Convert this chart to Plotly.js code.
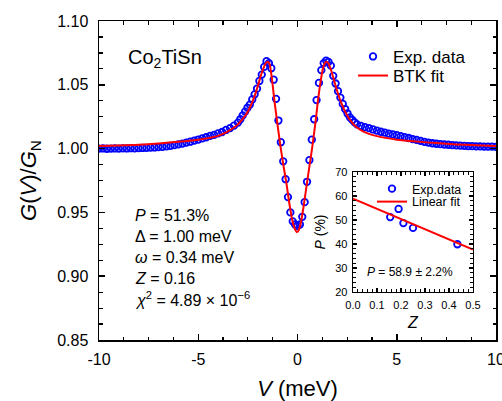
<!DOCTYPE html>
<html>
<head>
<meta charset="utf-8">
<script src="https://cdn.plot.ly/plotly-3.0.1.min.js"></script>
<style>
  html, body { margin: 0; padding: 0; background: #ffffff; }
  #chart { width: 502px; height: 401px; }
</style>
</head>
<body>
<div id="chart"></div>
<script>
// Normalised differential conductance of the Co2TiSn point contact
const expV = [
  -10.0, -9.8, -9.6, -9.4, -9.2, -9.0, -8.8, -8.6, -8.4, -8.2, -8.0, -7.8, -7.6, -7.4, -7.2, -7.0,
  -6.8, -6.6, -6.4, -6.2, -6.0, -5.8, -5.6, -5.4, -5.2, -5.0, -4.8, -4.6, -4.4, -4.2, -4.0, -3.8,
  -3.6, -3.4, -3.2, -3.0,
  -2.88, -2.76, -2.64, -2.52, -2.40, -2.28, -2.16, -2.04, -1.92, -1.80, -1.68, -1.56, -1.44, -1.32,
  -1.20, -1.08, -0.96, -0.84, -0.72, -0.60, -0.48, -0.36, -0.24, -0.12, 0.00, 0.12, 0.24, 0.36,
  0.48, 0.60, 0.72, 0.84, 0.96, 1.08, 1.20, 1.32, 1.44, 1.56, 1.68, 1.80, 1.92, 2.04, 2.16, 2.28,
  2.40, 2.52, 2.64, 2.76, 2.88,
  3.0, 3.2, 3.4, 3.6, 3.8, 4.0, 4.2, 4.4, 4.6, 4.8, 5.0, 5.2, 5.4, 5.6, 5.8, 6.0, 6.2, 6.4, 6.6,
  6.8, 7.0, 7.2, 7.4, 7.6, 7.8, 8.0, 8.2, 8.4, 8.6, 8.8, 9.0, 9.2, 9.4, 9.6, 9.8, 10.0
];
const expG = [
  1.0000, 1.0001, 0.9999, 1.0000, 1.0001, 1.0000, 1.0002, 1.0001, 1.0003, 1.0002, 1.0004, 1.0005, 1.0006, 1.0008, 1.0009, 1.0012,
  1.0014, 1.0018, 1.0021, 1.0027, 1.0033, 1.0039, 1.0047, 1.0054, 1.0063, 1.0071, 1.0080, 1.0089, 1.0100, 1.0108, 1.0119, 1.0130,
  1.0146, 1.0161, 1.0180, 1.0204,
  1.0230, 1.0260, 1.0290, 1.0320, 1.0345, 1.0385, 1.0425, 1.0470, 1.0530, 1.0580, 1.0640, 1.0685, 1.0670, 1.0630,
  1.0540, 1.0390, 1.0220, 1.0050, 0.9900, 0.9760, 0.9620, 0.9500, 0.9430, 0.9405, 0.9395, 0.9405, 0.9465, 0.9580,
  0.9740, 0.9910, 1.0070, 1.0230, 1.0380, 1.0515, 1.0615, 1.0670, 1.0690, 1.0680, 1.0650, 1.0570, 1.0510, 1.0450, 1.0400, 1.0350,
  1.0310, 1.0275, 1.0245, 1.0225, 1.0205,
  1.0190, 1.0178, 1.0168, 1.0160, 1.0150, 1.0141, 1.0132, 1.0125, 1.0117, 1.0111, 1.0105, 1.0098, 1.0090, 1.0083, 1.0075, 1.0068, 1.0060, 1.0053, 1.0047,
  1.0042, 1.0038, 1.0035, 1.0032, 1.0030, 1.0027, 1.0025, 1.0023, 1.0022, 1.0020, 1.0019, 1.0018, 1.0017, 1.0016, 1.0015, 1.0015, 1.0014
];

// BTK model curve
const fitV = [
  -10.0, -9.0, -8.0, -7.0, -6.0, -5.0, -4.5, -4.0, -3.5, -3.2, -3.0, -2.8, -2.6, -2.4, -2.2, -2.0,
  -1.85, -1.7, -1.6, -1.5, -1.42, -1.3, -1.15, -1.0, -0.85, -0.7, -0.55, -0.4, -0.25, -0.12, -0.03,
  0.06, 0.18, 0.3, 0.45, 0.6, 0.75, 0.9, 1.05, 1.2, 1.32, 1.45, 1.55, 1.7, 1.85, 2.0, 2.2, 2.4,
  2.6, 2.8, 3.0, 3.3, 3.6, 4.0, 4.5, 5.0, 6.0, 7.0, 8.0, 9.0, 10.0
];
const fitG = [
  1.0020, 1.0024, 1.0030, 1.0040, 1.0053, 1.0070, 1.0082, 1.0100, 1.0135, 1.0165, 1.0190, 1.0225, 1.0265, 1.0320, 1.0395, 1.0490,
  1.0570, 1.0635, 1.0668, 1.0680, 1.0668, 1.0560, 1.0360, 1.0180, 1.0010, 0.9860, 0.9720, 0.9560, 0.9430, 0.9365, 0.9345,
  0.9360, 0.9430, 0.9540, 0.9700, 0.9860, 1.0020, 1.0200, 1.0400, 1.0560, 1.0650, 1.0680, 1.0670, 1.0610, 1.0530, 1.0450, 1.0360, 1.0290,
  1.0235, 1.0195, 1.0165, 1.0135, 1.0115, 1.0098, 1.0082, 1.0070, 1.0055, 1.0043, 1.0033, 1.0026, 1.0020
];

// Inset: spin polarisation versus barrier strength
const insetZ = [0.155, 0.19, 0.21, 0.25, 0.435];
const insetP = [51.2, 54.6, 48.7, 46.7, 39.9];
const insetFitZ = [0.0, 0.5];
const insetFitP = [58.9, 37.7];

const xTickVals = [-10, -5, 0, 5, 10];
const xTickText = ['-10', '-5', '0', '5', '10'];

const FONT = 'Arial, "Liberation Sans", sans-serif';
const BLUE = '#0000ff';
const RED = '#ff0000';

const openCircle = { symbol: 'circle-open', size: 6.5, color: BLUE, line: { color: BLUE, width: 1.8 } };

const traces = [
  { x: expV, y: expG, type: 'scatter', mode: 'markers', name: 'Exp. data',
    marker: openCircle, xaxis: 'x', yaxis: 'y', legend: 'legend' },
  { x: fitV, y: fitG, type: 'scatter', mode: 'lines', name: 'BTK fit',
    line: { color: RED, width: 2, shape: 'spline', smoothing: 0.8 },
    xaxis: 'x', yaxis: 'y', legend: 'legend4' },
  { x: insetZ, y: insetP, type: 'scatter', mode: 'markers', name: 'Exp.data',
    marker: openCircle, xaxis: 'x2', yaxis: 'y2', legend: 'legend2' },
  { x: insetFitZ, y: insetFitP, type: 'scatter', mode: 'lines', name: 'Linear fit',
    line: { color: RED, width: 2 }, xaxis: 'x2', yaxis: 'y2', legend: 'legend3' }
];

const axisCommon = {
  showgrid: false, zeroline: false, showline: true, linecolor: '#000', linewidth: 1.5,
  mirror: 'allticks', ticks: 'inside', tickcolor: '#000', tickwidth: 1.5,
  ticklabeloverflow: 'allow', automargin: false
};

function legendBox(x, y, size) {
  return {
    xref: 'container', yref: 'container', x: x, y: y, xanchor: 'left', yanchor: 'top',
    bgcolor: 'rgba(0,0,0,0)', borderwidth: 0, font: { size: size, family: FONT }
  };
}

function note(xref, yref, x, y, text, size, anchor) {
  return { xref: xref, yref: yref, x: x, y: y, xanchor: anchor || 'left', yanchor: 'middle',
           text: text, showarrow: false, font: { size: size, family: FONT } };
}

const layout = {
  width: 502, height: 401,
  margin: { l: 99, r: 6, t: 21, b: 61, autoexpand: false },
  paper_bgcolor: '#fff', plot_bgcolor: '#fff',
  font: { family: FONT, color: '#000' },
  showlegend: true,
  xaxis: Object.assign({}, axisCommon, {
    domain: [0, 1], range: [-10, 10], anchor: 'y',
    tickmode: 'array', tickvals: xTickVals, ticktext: xTickText, ticklen: 6,
    tickfont: { size: 16, family: FONT }, ticklabelstandoff: 4,
    minor: { ticks: 'inside', tick0: -10, dtick: 1.25, ticklen: 3.5, tickcolor: '#000', tickwidth: 1.2 },
    title: { text: '<i>V</i> (meV)', font: { size: 22, family: FONT }, standoff: 14 }
  }),
  yaxis: Object.assign({}, axisCommon, {
    domain: [0, 1], range: [0.85, 1.10], anchor: 'x',
    tick0: 0.85, dtick: 0.05, tickformat: '.2f', ticklen: 6,
    tickfont: { size: 16, family: FONT }, ticklabelstandoff: 6,
    minor: { ticks: 'inside', tick0: 0.85, dtick: 0.0125, ticklen: 3.5, tickcolor: '#000', tickwidth: 1.2 },
    title: { text: '<i>G</i>(<i>V</i>)/<i>G</i><sub>N</sub>', font: { size: 22, family: FONT }, standoff: 14 }
  }),
  xaxis2: Object.assign({}, axisCommon, {
    domain: [0.6398, 0.942], range: [0, 0.5], anchor: 'y2', linewidth: 1.3,
    dtick: 0.1, tick0: 0, tickformat: '.1f', ticklen: 4,
    tickfont: { size: 11, family: FONT }, ticklabelstandoff: 3,
    minor: { ticks: 'inside', dtick: 0.02, ticklen: 2.5, tickcolor: '#000', tickwidth: 1 },
    title: { text: '<i>Z</i>', font: { size: 16, family: FONT }, standoff: 6 }
  }),
  yaxis2: Object.assign({}, axisCommon, {
    domain: [0.1505, 0.5266], range: [20, 70], anchor: 'x2', linewidth: 1.3,
    dtick: 10, tick0: 20, ticklen: 4,
    tickfont: { size: 11, family: FONT }, ticklabelstandoff: 2,
    minor: { ticks: 'inside', dtick: 2, ticklen: 2.5, tickcolor: '#000', tickwidth: 1 },
    title: { text: '<i>P</i> (%)', font: { size: 14, family: FONT }, standoff: 6 }
  }),
  legend: legendBox(0.7032, 0.9030, 17),
  legend4: legendBox(0.7032, 0.8554, 17),
  legend2: legendBox(0.741, 0.566, 12.5),
  legend3: legendBox(0.741, 0.5337, 12.5),
  annotations: [
    note('x', 'y', -8.65, 1.0706, 'Co<sub>2</sub>TiSn', 20),
    note('x', 'y', -8.3, 0.9474, '<i>P</i> = 51.3%', 16),
    note('x', 'y', -8.3, 0.9311, 'Δ = 1.00 meV', 16),
    note('x', 'y', -8.3, 0.9147, '<i>ω</i> = 0.34 meV', 16),
    note('x', 'y', -8.3, 0.8984, '<i>Z</i> = 0.16', 16),
    note('x', 'y', -8.3, 0.8821, '<i>χ</i><sup>2</sup> = 4.89 × 10<sup>−6</sup>', 16),
    note('x2', 'y2', 0.2375, 28.3, '<i>P</i> = 58.9 ± 2.2%', 12, 'center')
  ]
};

Plotly.newPlot('chart', traces, layout, { staticPlot: true, displayModeBar: false });
</script>
</body>
</html>
